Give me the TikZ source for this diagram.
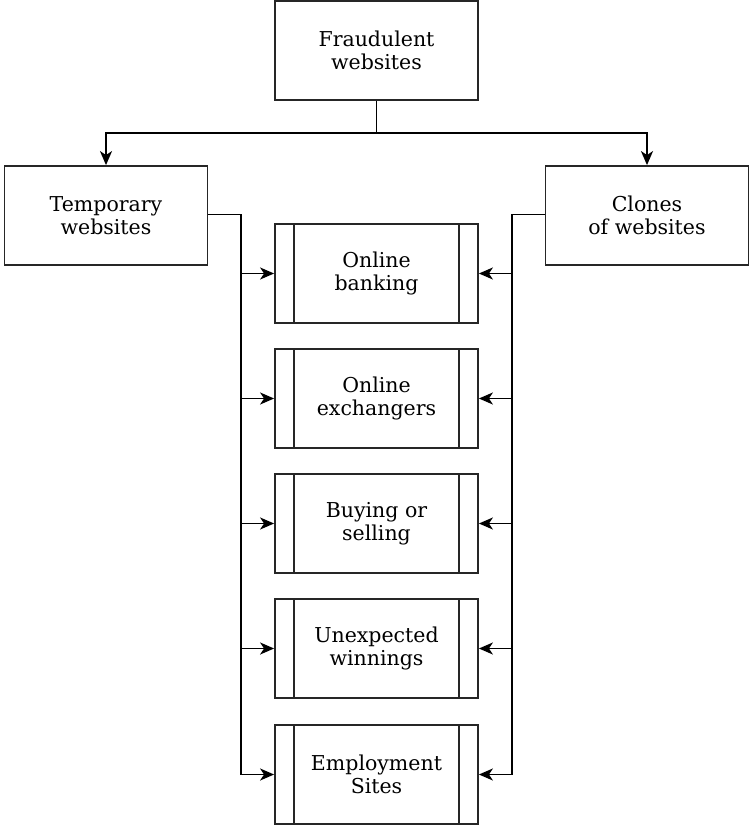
\documentclass[tikz,border=0pt]{standalone}
\usepackage{fontspec}
\setmainfont{DejaVu Serif}
\usetikzlibrary{arrows.meta}
\begin{document}
\begin{tikzpicture}[x=1pt,y=-1pt,
  box/.style={draw=black!85,line width=1.8pt,fill=white,minimum width=203pt,minimum height=99pt,inner sep=0pt,align=center,font=\fontsize{20.5}{23.5}\selectfont},
  proc/.style={box},
  conn/.style={line width=1.9pt,-{Stealth[length=14pt,width=12pt,inset=4pt]}},
]
\useasboundingbox (0,0) rectangle (750,827);
\node[box] (fw) at (376.5,50.5) {Fraudulent\\websites};
\node[box] (tw) at (106,215.5) {Temporary\\websites};
\node[box] (cw) at (647,215.5) {Clones\\of websites};
\foreach \n/\y/\t in {ob/273.5/{Online\\banking},oe/398.5/{Online\\exchangers},bs/523.5/{Buying or\\selling},uw/648.5/{Unexpected\\winnings},es/774.5/{Employment\\Sites}}{
  \node[proc] (\n) at (376.5,\y) {\t};
  \draw[black!85,line width=1.8pt] ([xshift=20pt]\n.north west) -- ([xshift=20pt]\n.south west);
  \draw[black!85,line width=1.8pt] ([xshift=-20pt]\n.north east) -- ([xshift=-20pt]\n.south east);
}
\coordinate (top) at (376.5,133);
\draw[conn] (fw.south) -- (top) -| (tw.north);
\draw[conn] (top) -| (cw.north);
\foreach \n in {ob,oe,bs,uw,es}{
  \draw[conn] ([yshift=1pt]tw.east) -| (241,0 |- \n.west) -- (\n.west);
  \draw[conn] ([yshift=1pt]cw.west) -| (512,0 |- \n.east) -- (\n.east);
}
\end{tikzpicture}
\end{document}
